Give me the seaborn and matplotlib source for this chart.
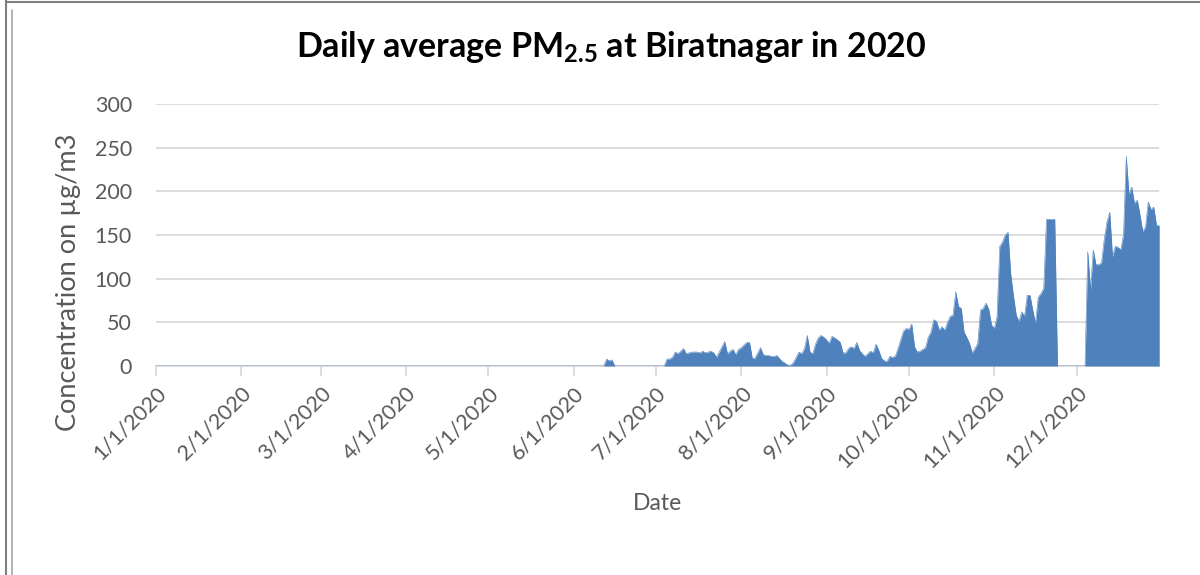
import numpy as np
import pandas as pd
import matplotlib
matplotlib.use("Agg")
import matplotlib.pyplot as plt
import matplotlib.dates as mdates
from matplotlib.ticker import FuncFormatter
from matplotlib.lines import Line2D
import seaborn as sns

# ---- data: daily average PM2.5 (µg/m3), 2020 ----
jan = [0] * 31
feb = [0] * 29
mar = [0] * 31
apr = [0] * 30
may = [0] * 31
jun = [0, 0, 0, 0, 0, 0, 0, 0, 0, 0, 0, 0, 8, 6, 7, 0, 0, 0, 0, 0,
       0, 0, 0, 0, 0, 0, 0, 0, 0, 0]
jul = [0, 0, 0, 0, 8, 8, 10, 16, 14, 17, 20, 14, 15, 16, 16, 16, 15, 17, 15, 16,
       17, 15, 10, 16, 22, 28, 14, 17, 19, 13, 19]
aug = [21, 24, 27, 27, 9, 9, 15, 21, 13, 12, 12, 11, 11, 12, 8, 5, 3, 1, 1, 4,
       10, 16, 14, 20, 35, 16, 14, 25, 32, 35, 33]
sep = [30, 26, 34, 32, 30, 27, 15, 15, 20, 22, 20, 27, 18, 14, 11, 14, 17, 15, 25, 18,
       9, 6, 5, 11, 10, 11, 20, 30, 40, 43]
oct_ = [42, 48, 22, 16, 17, 19, 21, 33, 39, 53, 51, 41, 45, 41, 50, 57, 58, 85, 68, 66,
        39, 33, 26, 15, 20, 26, 64, 66, 72, 65, 47]
nov = [43, 56, 137, 142, 150, 153, 105, 80, 58, 51, 62, 57, 81, 81, 64, 49, 79, 83, 89, 168,
       168, 168, 168, 0, 0, 0, 0, 0, 0, 0]
dec = [0, 0, 0, 0, 131, 87, 133, 116, 116, 118, 145, 165, 176, 125, 137, 136, 133, 150, 240, 196,
       205, 186, 190, 173, 154, 159, 188, 179, 182, 161, 161]

values = jan + feb + mar + apr + may + jun + jul + aug + sep + oct_ + nov + dec
dates = pd.date_range("2020-01-01", "2020-12-31", freq="D")
df = pd.DataFrame({"Date": dates, "PM25": values})

title_text = r"Daily average PM$_{\mathbf{2.5}}$ at Biratnagar in 2020"
x_label = "Date"
y_label = "Concentration on µg/m3"
y_ticks = [0, 50, 100, 150, 200, 250, 300]

# ---- style ----
sns.set_theme(style="white")
plt.rcParams["font.family"] = ["Lato", "DejaVu Sans"]
plt.rcParams["mathtext.fontset"] = "custom"
plt.rcParams["mathtext.rm"] = "Lato"
plt.rcParams["mathtext.bf"] = "Lato:bold"
plt.rcParams["mathtext.it"] = "Lato:italic"

fill_color = "#4F81BD"
text_gray = "#595959"
grid_gray = "#D9D9D9"

fig = plt.figure(figsize=(12, 5.75), dpi=100)
ax = fig.add_axes([155.5 / 1200, 1 - 366 / 575, (1159.25 - 155.5) / 1200, (366 - 104) / 575])

sns.lineplot(data=df, x="Date", y="PM25", ax=ax, color=fill_color, linewidth=0.4)
ax.fill_between(df["Date"], df["PM25"], 0, color=fill_color, linewidth=0)

ax.set_xlim(dates[0], dates[-1])
ax.set_ylim(0, 300)
ax.set_yticks(y_ticks)
ax.yaxis.grid(True, color=grid_gray, linewidth=1.3)
ax.xaxis.grid(False)
ax.set_axisbelow(True)

for s in ["top", "right", "left"]:
    ax.spines[s].set_visible(False)
ax.spines["bottom"].set_color(grid_gray)
ax.spines["bottom"].set_linewidth(1.3)
ax.spines["bottom"].set_zorder(0.5)

ax.xaxis.set_major_locator(mdates.MonthLocator())
ax.xaxis.set_major_formatter(FuncFormatter(
    lambda v, p: (lambda d: f"{d.month}/{d.day}/{d.year}")(mdates.num2date(v))))
ax.tick_params(axis="x", which="major", bottom=True, length=7, width=1.3, color=grid_gray,
               labelsize=15.5, labelcolor=text_gray, pad=5)
ax.tick_params(axis="y", left=False, length=0, labelsize=15.5, labelcolor=text_gray, pad=17)
for lbl in ax.get_xticklabels():
    lbl.set_rotation(45)
    lbl.set_ha("right")
    lbl.set_rotation_mode("anchor")

ax.set_xlabel(x_label, fontsize=16.5, color=text_gray)
ax.xaxis.set_label_coords(0.5, -0.485)
ax.set_ylabel(y_label, fontsize=19.5, color=text_gray)
ax.yaxis.set_label_coords(-0.074, 0.32)

fig.text(611 / 1200, 1 - 47 / 575, title_text, ha="center", va="center",
         fontsize=24.5, fontweight="bold", color="black")

# frame lines of the chart image
fig.add_artist(Line2D([6 / 1200, 6 / 1200], [0, 1], color="#7F7F7F", linewidth=1.5))
fig.add_artist(Line2D([12 / 1200, 12 / 1200], [0, 1 - 10 / 575], color="#A6A6A6", linewidth=1.2))
fig.add_artist(Line2D([6 / 1200, 1], [1 - 1.5 / 575, 1 - 1.5 / 575], color="#7F7F7F", linewidth=1.5))

fig.savefig("out.png", dpi=100)
